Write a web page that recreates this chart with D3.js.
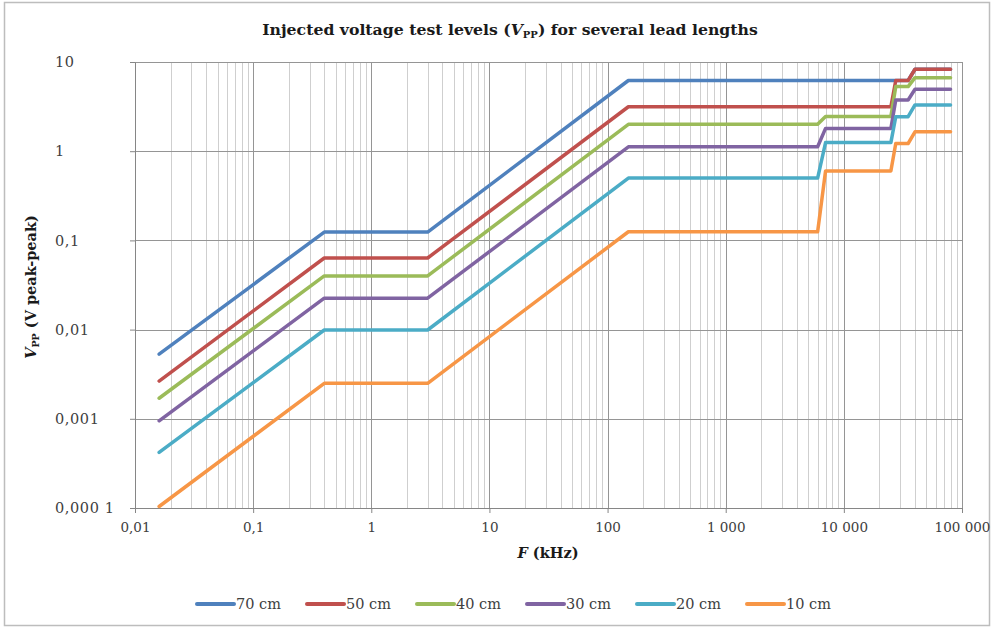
<!DOCTYPE html>
<html><head><meta charset="utf-8">
<script src="https://cdn.jsdelivr.net/npm/d3@7"></script>
<style>
html,body{margin:0;padding:0;background:#fff;}
svg{display:block;font-family:"DejaVu Serif","Liberation Serif",serif;}
</style></head>
<body>
<svg id="chart" width="1001" height="630"></svg>
<script>
// ---- data ----
const freqs = [0.016, 0.4, 3, 150, 6000, 7000, 25000, 27500, 35000, 40000, 80000];
const s70 = [0.0053, 0.124, 0.124, 6.2, 6.2, 6.2, 6.2, 6.2, 6.2, 8.3, 8.3];
const s50 = [0.00265, 0.0635, 0.0635, 3.15, 3.15, 3.15, 3.15, 6.2, 6.2, 8.3, 8.3];
const s40 = [0.0017, 0.04, 0.04, 2.0, 2.0, 2.45, 2.45, 5.3, 5.3, 6.67, 6.67];
const s30 = [0.00095, 0.0225, 0.0225, 1.12, 1.12, 1.8, 1.8, 3.75, 3.75, 4.94, 4.94];
const s20 = [0.00042, 0.0099, 0.0099, 0.5, 0.5, 1.25, 1.25, 2.44, 2.44, 3.3, 3.3];
const s10 = [0.000104, 0.0025, 0.0025, 0.125, 0.125, 0.6, 0.6, 1.22, 1.22, 1.65, 1.65];
const seriesNames = ["70 cm", "50 cm", "40 cm", "30 cm", "20 cm", "10 cm"];
const seriesValues = [s70, s50, s40, s30, s20, s10];
const seriesColors = ["#4F81BD", "#C0504D", "#9BBB59", "#8064A2", "#4BACC6", "#F79646"];
const xTickValues = [0.01, 0.1, 1, 10, 100, 1000, 10000, 100000];
const xTickLabels = ["0,01", "0,1", "1", "10", "100", "1 000", "10 000", "100 000"];
const yTickValues = [10, 1, 0.1, 0.01, 0.001, 0.0001];
const yTickLabels = ["10", "1", "0,1", "0,01", "0,001", "0,000 1"];

// ---- layout ----
const svg = d3.select("#chart");
const L = 135, R = 962, T = 62, B = 508;
const x = d3.scaleLog().domain([0.01, 100000]).range([L, R]);
const y = d3.scaleLog().domain([0.0001, 10]).range([B, T]);

// outer frame
svg.append("rect").attr("x", 4.5).attr("y", 2.5).attr("width", 985).attr("height", 623)
  .attr("fill", "#fff").attr("stroke", "#bdbdbd").attr("stroke-width", 1.5);

// minor vertical gridlines
const minor = [];
for (let e = -2; e < 5; e++) for (let k = 2; k <= 9; k++) minor.push(k * Math.pow(10, e));
svg.append("g").selectAll("line").data(minor).join("line")
  .attr("x1", d => Math.round(x(d)) + 0.5).attr("x2", d => Math.round(x(d)) + 0.5)
  .attr("y1", T).attr("y2", B).attr("stroke", "#cfcfcf").attr("stroke-width", 1);
// major vertical gridlines
svg.append("g").selectAll("line").data(xTickValues.slice(1)).join("line")
  .attr("x1", d => Math.round(x(d)) + 0.5).attr("x2", d => Math.round(x(d)) + 0.5)
  .attr("y1", T).attr("y2", B).attr("stroke", "#959595").attr("stroke-width", 1);
// horizontal gridlines
svg.append("g").selectAll("line").data(yTickValues.slice(0, -1)).join("line")
  .attr("x1", L).attr("x2", R)
  .attr("y1", d => Math.round(y(d)) + 0.5).attr("y2", d => Math.round(y(d)) + 0.5)
  .attr("stroke", "#959595").attr("stroke-width", 1);

// axes
const xAxis = d3.axisBottom(x).tickValues(xTickValues)
  .tickFormat((d, i) => xTickLabels[i]).tickSizeInner(5).tickSizeOuter(0).tickPadding(9);
const gx = svg.append("g").attr("transform", `translate(0,${B})`).call(xAxis);
gx.select(".domain").attr("stroke", "#868686");
gx.selectAll(".tick line").attr("stroke", "#868686");
gx.selectAll("text").attr("fill", "#404040").style("font-size", "13.5px")
  .style("font-family", "'DejaVu Serif',serif");

const yAxis = d3.axisLeft(y).tickValues(yTickValues)
  .tickFormat((d, i) => yTickLabels[i]).tickSizeInner(5).tickSizeOuter(0).tickPadding(0);
const gy = svg.append("g").attr("transform", `translate(${L},0)`).call(yAxis);
gy.select(".domain").attr("stroke", "#868686");
gy.selectAll(".tick line").attr("stroke", "#868686");
gy.selectAll("text").attr("fill", "#404040").style("font-size", "14.5px")
  .style("font-family", "'DejaVu Serif',serif").style("letter-spacing", "0.6px")
  .attr("text-anchor", "start").attr("x", 55 - L);

// series lines
const line = d3.line().x(d => x(d[0])).y(d => y(d[1]));
seriesValues.forEach((vals, i) => {
  svg.append("path").datum(freqs.map((f, j) => [f, vals[j]]))
    .attr("d", line).attr("fill", "none").attr("stroke", seriesColors[i])
    .attr("stroke-width", 3.5).attr("stroke-linejoin", "round").attr("stroke-linecap", "round");
});

// title
const title = svg.append("text").attr("x", 510).attr("y", 35).attr("text-anchor", "middle")
  .style("font-size", "15.7px").style("font-weight", "bold").attr("fill", "#1a1a1a");
title.append("tspan").text("Injected voltage test levels (");
title.append("tspan").text("V").style("font-style", "italic");
title.append("tspan").text("PP").style("font-size", "10px").attr("dy", 3);
title.append("tspan").text(") for several lead lengths").attr("dy", -3);

// x axis title
const xt = svg.append("text").attr("x", 548).attr("y", 558).attr("text-anchor", "middle")
  .style("font-size", "14.5px").style("font-weight", "bold").attr("fill", "#1a1a1a");
xt.append("tspan").text("F").style("font-style", "italic");
xt.append("tspan").text(" (kHz)");

// y axis title
const yt = svg.append("text").attr("transform", "translate(36,287) rotate(-90)")
  .attr("text-anchor", "middle").style("font-size", "14.5px").style("font-weight", "bold")
  .attr("fill", "#1a1a1a");
yt.append("tspan").text("V").style("font-style", "italic");
yt.append("tspan").text("PP").style("font-size", "9.5px").attr("dy", 3);
yt.append("tspan").text(" (V peak-peak)").attr("dy", -3);

// legend
const lg = svg.append("g").selectAll("g").data(seriesNames).join("g")
  .attr("transform", (d, i) => `translate(${197 + i * 110},604)`);
lg.append("line").attr("x1", 0).attr("x2", 37).attr("y1", 0).attr("y2", 0)
  .attr("stroke", (d, i) => seriesColors[i]).attr("stroke-width", 4).attr("stroke-linecap", "round");
lg.append("text").attr("x", 39).attr("y", 5).text(d => d)
  .style("font-size", "14.5px").style("font-family", "'DejaVu Serif',serif").attr("fill", "#404040");
</script>
</body></html>
